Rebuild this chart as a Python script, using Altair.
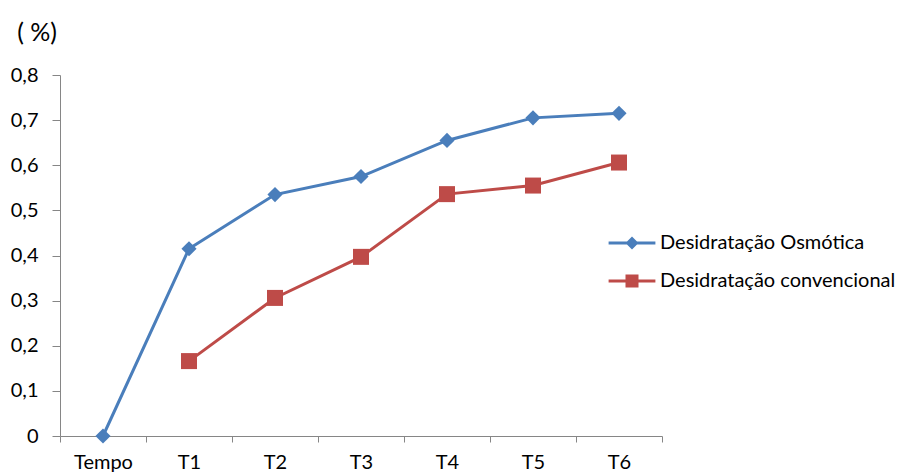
import altair as alt
import pandas as pd

categories = ["Tempo", "T1", "T2", "T3", "T4", "T5", "T6"]
osmotica = [0.0, 0.415, 0.535, 0.575, 0.655, 0.705, 0.715]
convencional = [None, 0.166, 0.306, 0.397, 0.536, 0.555, 0.606]
series_names = ["Desidratação Osmótica", "Desidratação convencional"]
series_colors = ["#4A7EBB", "#BE4B48"]
series_shapes = ["diamond", "square"]
series_sizes = [230, 256]
y_ticks = [0, 0.1, 0.2, 0.3, 0.4, 0.5, 0.6, 0.7, 0.8]
# legend symbols: a short line with the series marker in its middle
legend_paths = [
    "M-3.6,-0.23L3.6,-0.23L3.6,0.23L-3.6,0.23Z M0,-1L1,0L0,1L-1,0Z",
    "M-3.6,-0.23L3.6,-0.23L3.6,0.23L-3.6,0.23Z M-1,-1L1,-1L1,1L-1,1Z",
]

rows = []
for name, vals in zip(series_names, [osmotica, convencional]):
    for c, v in zip(categories, vals):
        if v is not None:
            rows.append({"cat": c, "value": v, "series": name})
df = pd.DataFrame(rows)

FONT = "Lato"

base = alt.Chart(df).encode(
    x=alt.X(
        "cat:N",
        sort=categories,
        scale=alt.Scale(domain=categories, paddingInner=0, paddingOuter=0),
        axis=alt.Axis(
            title=None, labelAngle=0, tickBand="extent", tickSize=6,
            labelPadding=10, grid=False,
        ),
    ),
    y=alt.Y(
        "value:Q",
        scale=alt.Scale(domain=[0, 0.8], nice=False, zero=True),
        axis=alt.Axis(
            title=None, values=y_ticks, tickSize=8, labelPadding=14, grid=False,
            labelExpr="datum.value == 0 ? '0' : replace(format(datum.value, '.1f'), '.', ',')",
        ),
    ),
)

layers = []
for name, col in zip(series_names, series_colors):
    layers.append(
        base.transform_filter(alt.datum.series == name).mark_line(strokeWidth=3, color=col)
    )
for name, col, shp, sz in zip(series_names, series_colors, series_shapes, series_sizes):
    layers.append(
        base.transform_filter(alt.datum.series == name).mark_point(
            shape=shp, filled=True, size=sz, opacity=1, color=col
        )
    )

leg = dict(
    title=None, orient="none", legendX=562, legendY=158, symbolSize=169,
    symbolStrokeWidth=0, labelOffset=18, rowPadding=18, labelFont=FONT,
    labelFontSize=20, labelColor="#000000", padding=0, labelLimit=400,
)
legend_layer = alt.Chart(df).transform_filter("false").mark_point(
    filled=True, opacity=1
).encode(
    color=alt.Color("series:N", scale=alt.Scale(domain=series_names, range=series_colors),
                    legend=alt.Legend(**leg)),
    shape=alt.Shape(
        "series:N",
        scale=alt.Scale(domain=series_names, range=legend_paths),
        legend=alt.Legend(**leg),
    ),
)
layers.append(legend_layer)

chart = (
    alt.layer(*layers)
    .properties(
        width=602, height=361,
        autosize=alt.AutoSizeParams(type="none"),
        padding={"left": 60, "top": 75, "right": 243, "bottom": 38},
        background="white",
        title=alt.TitleParams(
            "( %)", anchor="start", font=FONT, fontSize=25, fontWeight="normal",
            color="#000000", dx=7, offset=19,
        ),
    )
    .configure_view(strokeWidth=0)
    .configure_axis(
        domainColor="#868686", tickColor="#868686", labelColor="#000000",
        labelFont=FONT, labelFontSize=20, domainWidth=1, tickWidth=1,
    )
)

chart.save("out.html", embed_options={"renderer": "svg", "actions": False})
